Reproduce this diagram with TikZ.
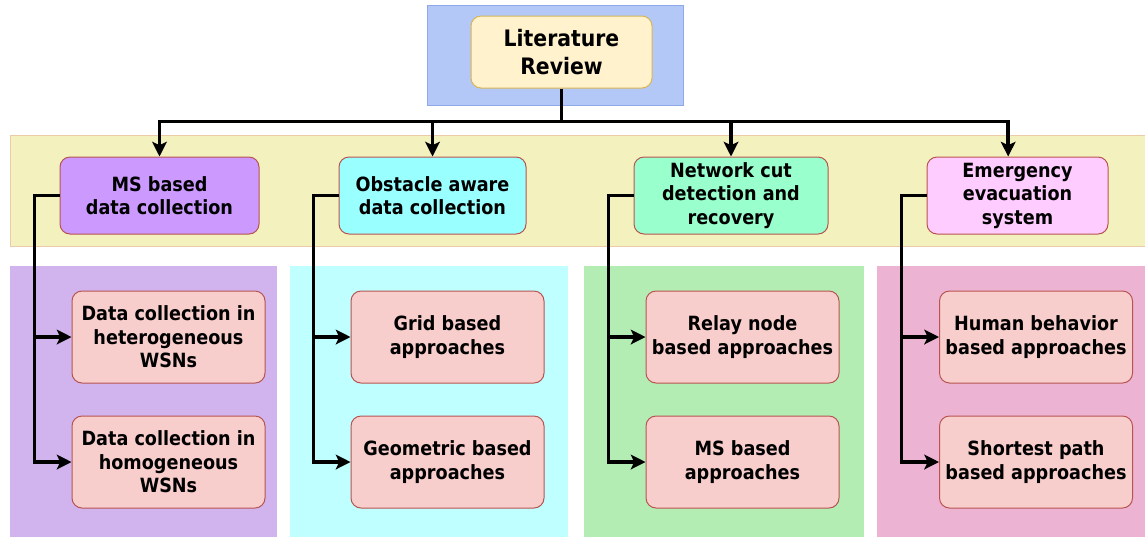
\documentclass[tikz,border=0pt]{standalone}
\usepackage{fontspec}
\setmainfont{DejaVu Sans Condensed}
\usepackage{xcolor}
\usetikzlibrary{arrows.meta}
\usetikzlibrary{positioning}

\definecolor{topbg}{HTML}{B3C8F7}
\definecolor{topedge}{HTML}{8FA8EA}
\definecolor{revfill}{HTML}{FFF2CC}
\definecolor{revedge}{HTML}{D6B656}
\definecolor{bandfill}{HTML}{F3F2BE}
\definecolor{bandedge}{HTML}{EBCBA8}
\definecolor{edgered}{HTML}{B85450}
\definecolor{msfill}{HTML}{CC99FF}
\definecolor{obsfill}{HTML}{99FFFF}
\definecolor{netfill}{HTML}{99FFCC}
\definecolor{emgfill}{HTML}{FFCCFF}
\definecolor{methfill}{HTML}{F8CECC}
\definecolor{panelA}{HTML}{D1B3EE}
\definecolor{panelB}{HTML}{BFFFFF}
\definecolor{panelC}{HTML}{B3EDB3}
\definecolor{panelD}{HTML}{EDB3D3}

\begin{document}
\begin{tikzpicture}
[x=0.75pt, y=-0.75pt,
 every node/.style={inner sep=0pt, align=center, font=\bfseries\fontsize{14.7}{17.6}\selectfont},
 topic/.style={rounded corners=7.5pt, line width=0.75pt, draw=edgered, minimum height=57.75pt},
 method/.style={rounded corners=7.5pt, line width=0.75pt, fill=methfill, draw=edgered, minimum width=144.75pt, minimum height=69pt},
 link/.style={line width=2.6pt, -{Stealth[length=11pt, width=11pt, inset=2.5pt]}}]
\useasboundingbox (0,0) rectangle (1145,537);
% backgrounds
\draw [fill=topbg, draw=topedge, line width=0.75pt] (427,5) rectangle (683,105);
\draw [fill=bandfill, draw=bandedge, line width=0.75pt] (10,135) rectangle (1150,246);
\fill [panelA] (10,266) rectangle (277,537);
\fill [panelB] (290,266) rectangle (568,537);
\fill [panelC] (584,266) rectangle (864,537);
\fill [panelD] (877,266) rectangle (1145,537);
% root
\node (lit) [rounded corners=7.5pt, minimum width=135.75pt, minimum height=54pt, fill=revfill, draw=revedge, line width=0.75pt, font=\bfseries\fontsize{17}{21.5}\selectfont] at (561.5, 52) {Literature\\Review};
% topics
\node (ms) [topic, fill=msfill, minimum width=149.25pt] at (159.5, 195.5) {MS based\\data collection};
\node (obs) [topic, fill=obsfill, minimum width=140.25pt] at (432.5, 195.5) {Obstacle aware\\data collection};
\node (net) [topic, fill=netfill, minimum width=145.5pt] at (731, 195.5) {Network cut\\detection and\\recovery};
\node (emg) [topic, fill=emgfill, minimum width=135.75pt] at (1017.5, 195.5) {Emergency\\evacuation\\system};
% methods
\node (ms1) [method] at (168.5, 337) {Data collection in\\heterogeneous\\WSNs};
\node (ms2) [method] at (168.5, 462) {Data collection in\\homogeneous\\WSNs};
\node (obs1) [method] at (447.5, 337) {Grid based\\approaches};
\node (obs2) [method] at (447.5, 462) {Geometric based\\approaches};
\node (net1) [method] at (742.5, 337) {Relay node\\based approaches};
\node (net2) [method] at (742.5, 462) {MS based\\approaches};
\node (emg1) [method] at (1036, 337) {Human behavior\\based approaches};
\node (emg2) [method] at (1036, 462) {Shortest path\\based approaches};
% connectors
\draw [line width=2.6pt] (lit.south) -- ++(0,33) coordinate (bus);
\draw [link] (bus) -| (ms.north);
\draw [link] (bus) -| (obs.north);
\draw [link] (bus) -| (net.north);
\draw [link] (bus) -| ([xshift=-7pt]emg.north);
\draw [link] (ms.west) -- ++(-25,0) |- (ms1.west);
\draw [link] (ms.west) -- ++(-25,0) |- (ms2.west);
\draw [link] (obs.west) -- ++(-25,0) |- (obs1.west);
\draw [link] (obs.west) -- ++(-25,0) |- (obs2.west);
\draw [link] (net.west) -- ++(-25,0) |- (net1.west);
\draw [link] (net.west) -- ++(-25,0) |- (net2.west);
\draw [link] (emg.west) -- ++(-25,0) |- (emg1.west);
\draw [link] (emg.west) -- ++(-25,0) |- (emg2.west);
\end{tikzpicture}
\end{document}
